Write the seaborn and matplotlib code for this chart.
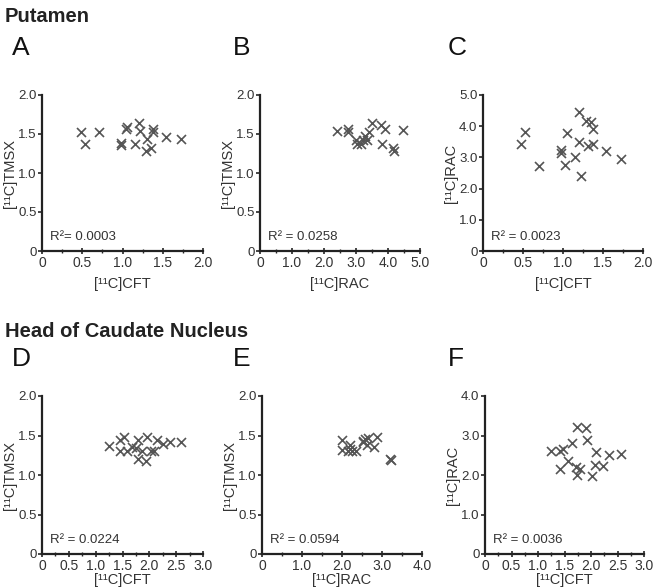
import numpy as np
import pandas as pd
import matplotlib
matplotlib.use("Agg")
import matplotlib.pyplot as plt
import seaborn as sns
from matplotlib.ticker import FuncFormatter, MultipleLocator

# ---- datos ----
# Putamen
a_cft = [0.48, 0.53, 0.71, 0.98, 0.98, 1.06, 1.04, 1.16, 1.21, 1.22, 1.31, 1.29, 1.35, 1.38, 1.38, 1.54, 1.73]
a_tmsx = [1.52, 1.37, 1.52, 1.39, 1.36, 1.59, 1.56, 1.37, 1.64, 1.54, 1.44, 1.28, 1.32, 1.56, 1.52, 1.46, 1.44]

b_rac = [2.40, 2.76, 2.74, 3.00, 3.04, 3.16, 3.21, 3.29, 3.35, 3.42, 3.50, 3.78, 3.91, 3.80, 4.15, 4.19, 4.46]
b_tmsx = [1.54, 1.56, 1.53, 1.42, 1.37, 1.37, 1.42, 1.47, 1.42, 1.52, 1.64, 1.61, 1.57, 1.37, 1.32, 1.28, 1.55]

c_cft = [0.47, 0.52, 0.70, 0.97, 0.97, 1.05, 1.03, 1.15, 1.20, 1.20, 1.22, 1.29, 1.35, 1.37, 1.31, 1.37, 1.54, 1.73]
c_rac = [3.44, 3.80, 2.74, 3.25, 3.14, 3.78, 2.77, 3.01, 4.45, 3.48, 2.39, 4.16, 4.13, 3.92, 3.38, 3.44, 3.22, 2.96]

# Head of caudate nucleus
d_cft = [1.24, 1.45, 1.53, 1.45, 1.58, 1.67, 1.75, 1.78, 1.86, 1.78, 1.93, 1.96, 2.04, 2.09, 2.15, 2.25, 2.39, 2.59]
d_tmsx = [1.37, 1.44, 1.48, 1.30, 1.30, 1.35, 1.34, 1.44, 1.31, 1.20, 1.18, 1.48, 1.31, 1.31, 1.44, 1.39, 1.42, 1.42]

e_rac = [1.99, 1.99, 2.14, 2.20, 2.25, 2.35, 2.20, 2.52, 2.58, 2.64, 2.62, 2.81, 2.87, 3.21, 3.22, 2.53]
e_tmsx = [1.44, 1.32, 1.31, 1.38, 1.30, 1.31, 1.33, 1.42, 1.45, 1.47, 1.38, 1.35, 1.48, 1.20, 1.19, 1.43]

f_cft = [1.24, 1.41, 1.47, 1.64, 1.41, 1.57, 1.71, 1.73, 1.79, 1.73, 1.90, 1.93, 2.02, 2.10, 2.07, 2.23, 2.34, 2.56]
f_rac = [2.62, 2.60, 2.65, 2.82, 2.15, 2.35, 2.20, 2.01, 2.14, 3.22, 3.18, 2.88, 1.98, 2.58, 2.26, 2.22, 2.50, 2.54]

r2_labels = ["R\u00b2= 0.0003", "R\u00b2 = 0.0258", "R\u00b2 = 0.0023",
             "R\u00b2 = 0.0224", "R\u00b2 = 0.0594", "R\u00b2 = 0.0036"]
panel_letters = ["A", "B", "C", "D", "E", "F"]

# tema
sns.set_theme(style="ticks")
plt.rcParams["font.family"] = ["Liberation Sans", "DejaVu Sans"]

W, H = 655, 588
fig = plt.figure(figsize=(W / 100, H / 100), dpi=100)

def ax_px(x0, x1, y_top, y_bot):
    return fig.add_axes([x0 / W, 1 - y_bot / H, (x1 - x0) / W, (y_bot - y_top) / H])

def fmt(v, pos):
    return "0" if abs(v) < 1e-9 else f"{v:.1f}"

TMSX = "[\u00b9\u00b9C]TMSX"
CFT = "[\u00b9\u00b9C]CFT"
RAC = "[\u00b9\u00b9C]RAC"

panels = [
    # (x, y, xlabel, ylabel, xmax, xstep, ymax, ystep, box)
    (a_cft, a_tmsx, CFT, TMSX, 2.0, 0.5, 2.0, 0.5, (42, 203, 95, 251)),
    (b_rac, b_tmsx, RAC, TMSX, 5.0, 1.0, 2.0, 0.5, (260, 420, 95, 251)),
    (c_cft, c_rac, CFT, RAC, 2.0, 0.5, 5.0, 1.0, (483, 643, 95, 251)),
    (d_cft, d_tmsx, CFT, TMSX, 3.0, 0.5, 2.0, 0.5, (42, 203, 396, 554)),
    (e_rac, e_tmsx, RAC, TMSX, 4.0, 1.0, 2.0, 0.5, (262, 422, 396, 554)),
    (f_cft, f_rac, CFT, RAC, 3.0, 0.5, 4.0, 1.0, (485, 644, 396, 554)),
]

for i, (xs, ys, xl, yl, xmax, xstep, ymax, ystep, box) in enumerate(panels):
    ax = ax_px(*box)
    df = pd.DataFrame({"x": xs, "y": ys})
    sns.scatterplot(data=df, x="x", y="y", ax=ax, marker="x", color="#555555",
                    s=42, linewidth=1.2, clip_on=False)
    ax.set_xlim(0, xmax)
    ax.set_ylim(0, ymax)
    ax.xaxis.set_major_locator(MultipleLocator(xstep))
    ax.xaxis.set_minor_locator(MultipleLocator(xstep / 2))
    ax.yaxis.set_major_locator(MultipleLocator(ystep))
    ax.xaxis.set_major_formatter(FuncFormatter(fmt))
    ax.yaxis.set_major_formatter(FuncFormatter(fmt))
    sns.despine(ax=ax)
    for s in ["left", "bottom"]:
        ax.spines[s].set_linewidth(1.6)
        ax.spines[s].set_color("#222222")
    ax.tick_params(axis="x", which="major", direction="inout", length=5, width=1.2,
                   labelsize=10, labelcolor="#333333", pad=1)
    ax.tick_params(axis="x", which="minor", direction="inout", length=3, width=1)
    ax.tick_params(axis="y", which="major", direction="out", length=3, width=1.2,
                   labelsize=9.5, labelcolor="#333333", pad=1)
    top_row = i < 3
    ax.set_xlabel(xl, fontsize=10.5, color="#333333", labelpad=5 if top_row else 0)
    ax.set_ylabel(yl, fontsize=10.5, color="#333333", labelpad=1)
    ax.text(0.05, 0.09, r2_labels[i], transform=ax.transAxes, fontsize=9.5,
            color="#333333", va="center", ha="left")

# letras de los paneles
letter_x = [12, 233, 448]
for i, L in enumerate(panel_letters):
    ypx = 55 if i < 3 else 366
    fig.text(letter_x[i % 3] / W, 1 - ypx / H, L, fontsize=19, color="#111111",
             ha="left", va="baseline")

fig.text(5 / W, 1 - 22 / H, "Putamen", fontsize=14.5, fontweight="bold",
         color="#222222", ha="left", va="baseline")
fig.text(5 / W, 1 - 337 / H, "Head of Caudate Nucleus", fontsize=14.5,
         fontweight="bold", color="#222222", ha="left", va="baseline")

fig.savefig("out.png", dpi=100)
